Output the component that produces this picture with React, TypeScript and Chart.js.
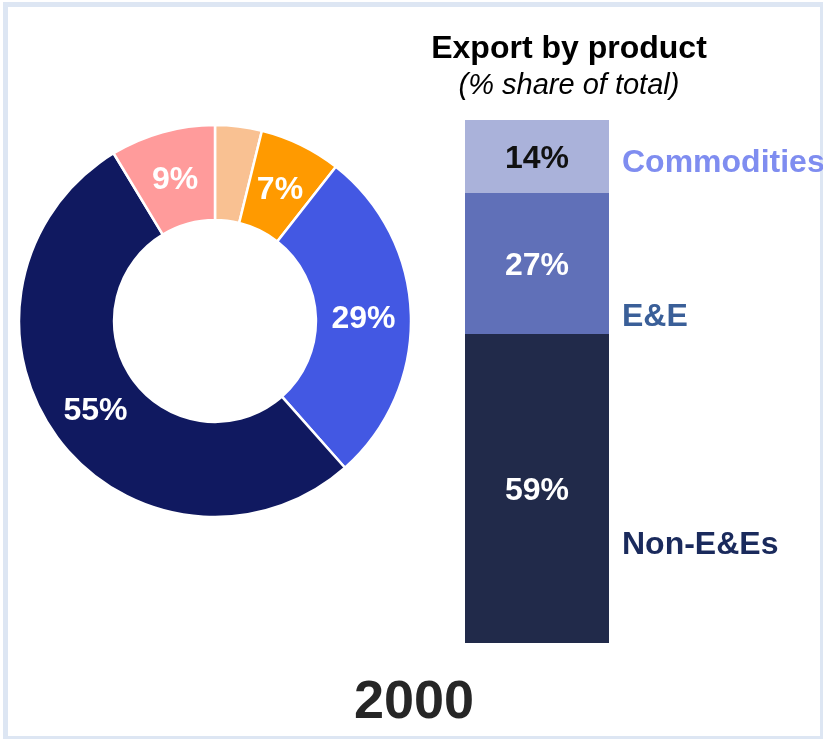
import React, { useEffect, useRef } from "react";
import { Chart, registerables } from "chart.js";

Chart.register(...registerables);

// Donut: export shares (clockwise from top)
const donutLabels = ["Other", "Segment B", "Segment C", "Segment D", "Segment E"];
const donutValues = [4, 7, 29, 55, 9];
const donutColors = ["#f9c192", "#ff9a00", "#4358e3", "#101960", "#ff9b9b"];

// Stacked bar: export by product (% share of total), bottom to top
const barCategories = ["2000"];
const productNames = ["Non-E&Es", "E&E", "Commodities"];
const productValues = [59, 27, 14];
const productColors = ["#212a4a", "#6070b8", "#aab2da"];
const productLabelColors = ["#1a2a5c", "#3a5f98", "#7f8df0"];
const productValueColors = ["#ffffff", "#ffffff", "#111111"];

const titleText = "Export by product";
const subtitleText = "(% share of total)";
const yearText = "2000";

const FONT = "'Liberation Sans', Arial, Helvetica, sans-serif";
const LABEL_PX = 32;

export default function App() {
  const donutRef = useRef<HTMLCanvasElement | null>(null);
  const barRef = useRef<HTMLCanvasElement | null>(null);

  useEffect(() => {
    const donutLabelPlugin = {
      id: "donutLabels",
      afterDatasetsDraw(chart: any) {
        const ctx = chart.ctx;
        const meta = chart.getDatasetMeta(0);
        ctx.save();
        ctx.font = `bold ${LABEL_PX}px ${FONT}`;
        ctx.fillStyle = "#ffffff";
        ctx.textAlign = "center";
        ctx.textBaseline = "alphabetic";
        meta.data.forEach((el: any, i: number) => {
          const v = donutValues[i];
          if (v < 5) return;
          const p = el.tooltipPosition();
          ctx.fillText(`${v}%`, p.x, p.y + LABEL_PX * 0.358);
        });
        ctx.restore();
      },
    };

    const donut = new Chart(donutRef.current!, {
      type: "doughnut",
      data: {
        labels: donutLabels,
        datasets: [
          {
            data: donutValues,
            backgroundColor: donutColors,
            borderColor: "#ffffff",
            borderWidth: 2.5,
            hoverBorderWidth: 2.5,
          },
        ],
      },
      options: {
        animation: false,
        responsive: false,
        radius: 196,
        cutout: "51.5%",
        layout: { padding: 0 },
        plugins: { legend: { display: false }, tooltip: { enabled: false } },
        events: [],
      } as any,
      plugins: [donutLabelPlugin],
    });

    const barTextPlugin = {
      id: "barText",
      afterDatasetsDraw(chart: any) {
        const ctx = chart.ctx;
        const area = chart.chartArea;
        ctx.save();
        // values inside bar segments
        ctx.font = `bold ${LABEL_PX}px ${FONT}`;
        ctx.textAlign = "center";
        ctx.textBaseline = "alphabetic";
        chart.data.datasets.forEach((ds: any, i: number) => {
          const el = chart.getDatasetMeta(i).data[0];
          const cy = (el.y + el.base) / 2;
          ctx.fillStyle = productValueColors[i];
          ctx.fillText(`${ds.data[0]}%`, el.x, cy + LABEL_PX * 0.358);
        });
        // product names to the right
        const nameOffsets = [54, 51, 4];
        ctx.textAlign = "left";
        chart.data.datasets.forEach((ds: any, i: number) => {
          const el = chart.getDatasetMeta(i).data[0];
          const cy = (el.y + el.base) / 2 + nameOffsets[i];
          ctx.fillStyle = productLabelColors[i];
          ctx.fillText(productNames[i], area.right + 13, cy + LABEL_PX * 0.358);
        });
        // title & subtitle
        const tx = (area.left + area.right) / 2 + 32;
        ctx.textAlign = "center";
        ctx.fillStyle = "#000000";
        ctx.font = `bold 32px ${FONT}`;
        ctx.fillText(titleText, tx, 58);
        ctx.font = `italic 29px ${FONT}`;
        ctx.fillText(subtitleText, tx, 94);
        // year
        ctx.fillStyle = "#262626";
        ctx.font = `bold 54px ${FONT}`;
        ctx.fillText(yearText, 414, 718);
        ctx.restore();
      },
    };

    const bar = new Chart(barRef.current!, {
      type: "bar",
      data: {
        labels: barCategories,
        datasets: productNames.map((n, i) => ({
          label: n,
          data: [productValues[i]],
          backgroundColor: productColors[i],
          borderWidth: 0,
          barPercentage: 1,
          categoryPercentage: 1,
        })),
      },
      options: {
        animation: false,
        responsive: false,
        layout: { padding: { left: 465, right: 214, top: 120, bottom: 96 } },
        scales: {
          x: { stacked: true, display: false },
          y: { stacked: true, display: false, min: 0, max: 100 },
        },
        plugins: { legend: { display: false }, tooltip: { enabled: false } },
        events: [],
      } as any,
      plugins: [barTextPlugin],
    });

    return () => {
      donut.destroy();
      bar.destroy();
    };
  }, []);

  return (
    <div
      style={{
        position: "absolute",
        left: 0,
        top: 0,
        width: 823,
        height: 739,
        overflow: "hidden",
        background: "#ffffff",
      }}
    >
      <div
        style={{
          position: "absolute",
          left: 3,
          top: 2,
          width: 822,
          height: 739,
          boxSizing: "border-box",
          border: "5px solid #dde6f3",
        }}
      />
      <canvas
        ref={barRef}
        width={823}
        height={739}
        style={{ position: "absolute", left: 0, top: 0, width: 823, height: 739 }}
      />
      <canvas
        ref={donutRef}
        width={394}
        height={394}
        style={{ position: "absolute", left: 18, top: 124, width: 394, height: 394 }}
      />
    </div>
  );
}
